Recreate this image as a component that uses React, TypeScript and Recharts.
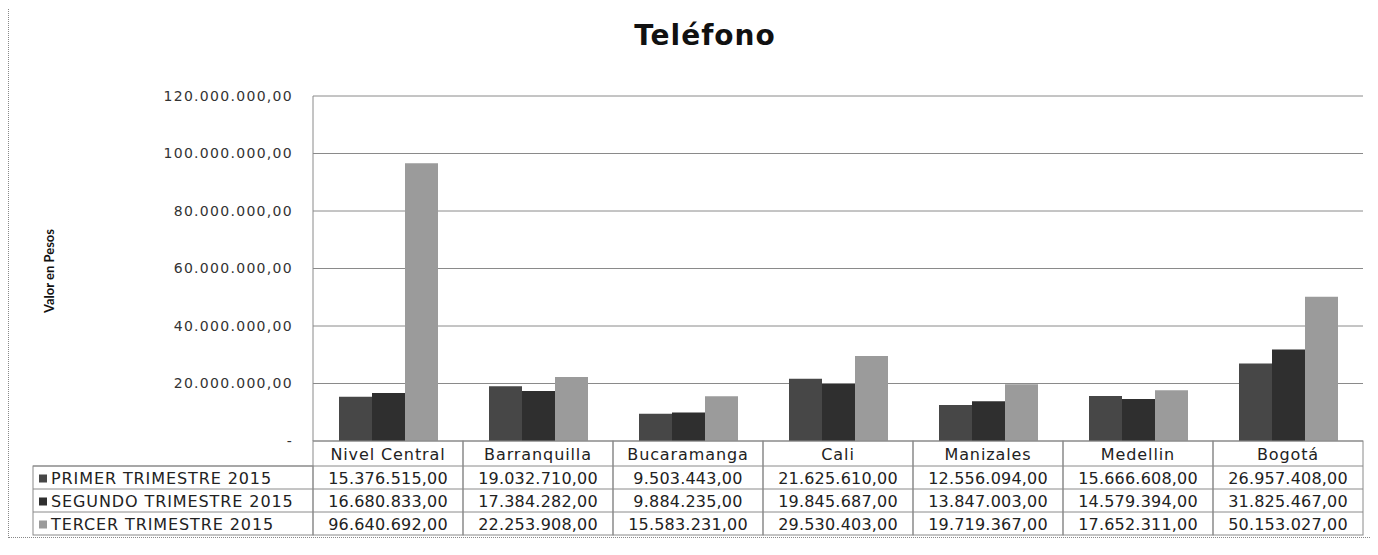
import { BarChart, Bar, XAxis, YAxis, CartesianGrid } from "recharts";

const categories = ["Nivel Central", "Barranquilla", "Bucaramanga", "Cali", "Manizales", "Medellin", "Bogotá"];
const primer = [15376515, 19032710, 9503443, 21625610, 12556094, 15666608, 26957408];
const segundo = [16680833, 17384282, 9884235, 19845687, 13847003, 14579394, 31825467];
const tercer = [96640692, 22253908, 15583231, 29530403, 19719367, 17652311, 50153027];
const seriesNames = ["PRIMER TRIMESTRE 2015", "SEGUNDO TRIMESTRE 2015", "TERCER TRIMESTRE 2015"];
const seriesColors = ["#474747", "#2f2f2f", "#9b9b9b"];
const yTicks = [0, 20000000, 40000000, 60000000, 80000000, 100000000, 120000000];

const W = 1364;
const H = 532;
const MARGIN = { top: 89, right: 10, left: 174, bottom: 2 };
const Y_W = 130;
const X_H = 96;
const PLOT_L = MARGIN.left + Y_W;
const PLOT_W = W - PLOT_L - MARGIN.right;
const CW = PLOT_W / categories.length;
const PLOT_B = H - MARGIN.bottom - X_H;
const HEAD_H = 25;
const ROW_H = 23;
const LEG_L = 24;
const FONT = "'DejaVu Sans', sans-serif";
const LINE = "#8a8a8a";

const data = categories.map((c, i) => ({
  name: c,
  primer: primer[i],
  segundo: segundo[i],
  tercer: tercer[i],
}));
const rows = [primer, segundo, tercer];

function fmt(v: number) {
  if (v === 0) return "-";
  return String(Math.round(v)).replace(/\B(?=(\d{3})+(?!\d))/g, ".") + ",00";
}

const cellText = { fontSize: 16, fontFamily: FONT, fill: "#222", letterSpacing: 0.9 };
const numText = { ...cellText, letterSpacing: 0.2 };

function TableTick(props: any) {
  const { x, payload } = props;
  const i = categories.indexOf(payload.value);
  const left = x - CW / 2;
  const top = PLOT_B;
  const bottom = top + HEAD_H + ROW_H * 3;
  return (
    <g>
      <rect x={left} y={top} width={CW} height={bottom - top} fill="none" stroke={LINE} />
      <line x1={left} x2={left + CW} y1={top + HEAD_H} y2={top + HEAD_H} stroke={LINE} />
      <line x1={left} x2={left + CW} y1={top + HEAD_H + ROW_H} y2={top + HEAD_H + ROW_H} stroke={LINE} />
      <line x1={left} x2={left + CW} y1={top + HEAD_H + ROW_H * 2} y2={top + HEAD_H + ROW_H * 2} stroke={LINE} />
      <text x={x} y={top + HEAD_H / 2 + 1} textAnchor="middle" dominantBaseline="central" {...cellText}>
        {payload.value}
      </text>
      {rows.map((r, k) => (
        <text key={k} x={x} y={top + HEAD_H + ROW_H * k + ROW_H / 2 + 1} textAnchor="middle" dominantBaseline="central" {...numText}>
          {fmt(r[i])}
        </text>
      ))}
      {i === 0 && (
        <g>
          <rect x={LEG_L} y={top + HEAD_H} width={left - LEG_L} height={ROW_H * 3} fill="none" stroke={LINE} />
          {seriesNames.map((s, k) => (
            <g key={s}>
              <line x1={LEG_L} x2={left} y1={top + HEAD_H + ROW_H * k} y2={top + HEAD_H + ROW_H * k} stroke={LINE} />
              <rect x={LEG_L + 6} y={top + HEAD_H + ROW_H * k + ROW_H / 2 - 3} width={8} height={8} fill={seriesColors[k]} />
              <text x={LEG_L + 18} y={top + HEAD_H + ROW_H * k + ROW_H / 2 + 1} dominantBaseline="central" {...cellText}>
                {s}
              </text>
            </g>
          ))}
        </g>
      )}
    </g>
  );
}

export default function App() {
  return (
    <div style={{ position: "relative", width: W, height: H, border: "1px dotted #888", boxSizing: "border-box", marginTop: -2 }}>
      <div style={{ position: "absolute", left: 38, width: W - 48, top: 12, textAlign: "center", fontFamily: FONT, fontWeight: "bold", fontSize: 28, letterSpacing: 1, color: "#111" }}>
        Teléfono
      </div>
      <div style={{ position: "absolute", left: 40, top: 264, transform: "translate(-50%, -50%) rotate(-90deg)", whiteSpace: "nowrap", fontFamily: "Lato, sans-serif", fontWeight: "bold", fontSize: 13, color: "#111" }}>
        Valor en Pesos
      </div>
      <BarChart width={W} height={H} data={data} margin={MARGIN} barGap={0} barSize={33}>
        <CartesianGrid vertical={false} stroke={LINE} />
        <XAxis dataKey="name" height={X_H} interval={0} tickLine={false} axisLine={false} tickSize={0} tickMargin={0} tick={<TableTick />} />
        <YAxis
          width={Y_W}
          domain={[0, 120000000]}
          ticks={yTicks}
          tickFormatter={fmt}
          tickLine={false}
          tickSize={0}
          tickMargin={20}
          axisLine={{ stroke: LINE }}
          tick={{ fill: "#333", fontSize: 14, fontFamily: FONT, letterSpacing: 1.3 }}
        />
        <Bar dataKey="primer" fill={seriesColors[0]} isAnimationActive={false} />
        <Bar dataKey="segundo" fill={seriesColors[1]} isAnimationActive={false} />
        <Bar dataKey="tercer" fill={seriesColors[2]} isAnimationActive={false} />
      </BarChart>
    </div>
  );
}
